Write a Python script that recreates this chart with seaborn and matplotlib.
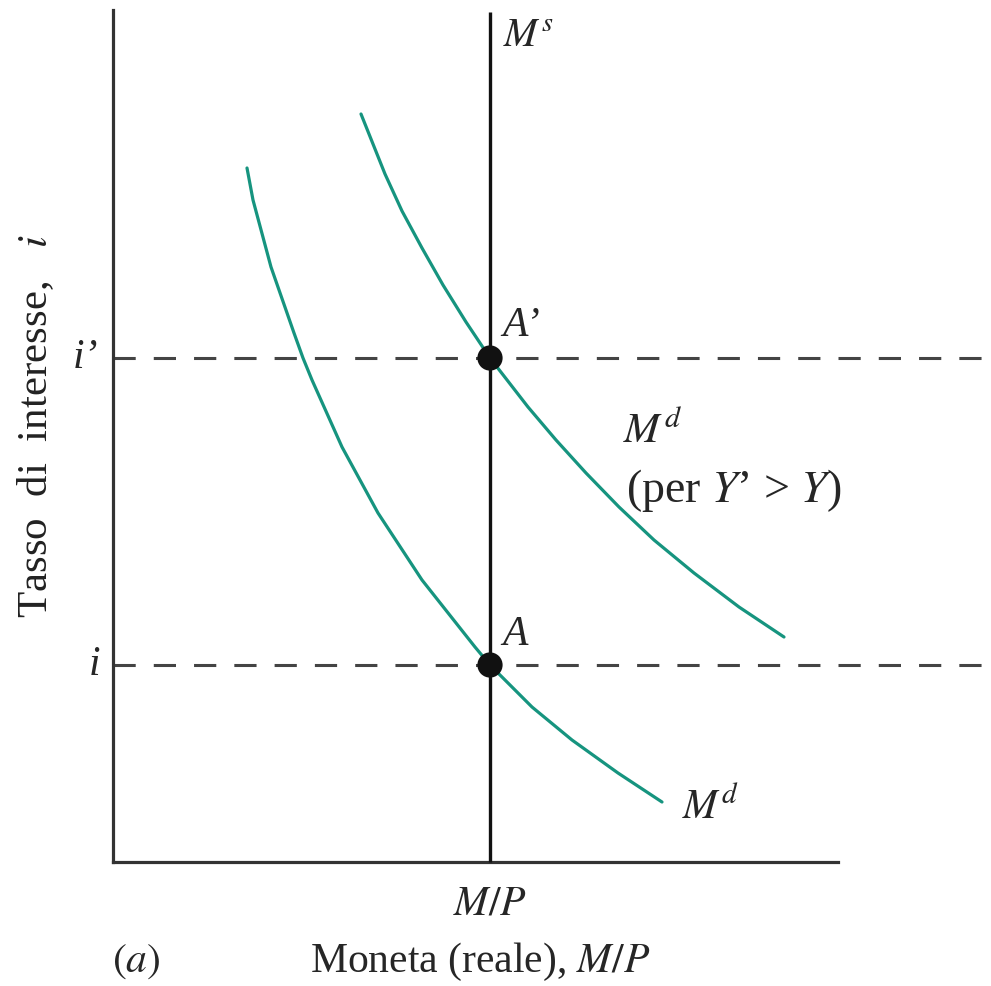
import matplotlib
matplotlib.use("Agg")
import matplotlib.pyplot as plt
import seaborn as sns
import pandas as pd

# --- data (diagram units: x = real money M/P, y = interest rate i) ---
md_x = [134, 140, 158, 181, 190, 199, 229, 265, 309, 362, 377, 419, 459, 505, 549]
md_y = [694, 662, 595, 529, 504, 482, 415, 349, 282, 215, 197, 155, 122, 89, 60]
md2_x = [248, 272, 289, 309, 330, 353, 377, 415, 443, 473, 506, 541, 581, 626, 671]
md2_y = [748, 688, 651, 614, 577, 540, 504, 455, 422, 389, 355, 322, 289, 255, 225]
ms_x = 377            # M/P (money supply)
i_low = 197           # i
i_high = 504          # i'
eq_x = [377, 377]
eq_y = [197, 504]

sns.set_theme(style="white")
plt.rcParams["font.family"] = ["Liberation Serif", "DejaVu Serif"]
plt.rcParams["mathtext.fontset"] = "stix"
plt.rcParams["lines.scale_dashes"] = False

fig = plt.figure(figsize=(9.91, 9.86), dpi=100)
ax = fig.add_axes([0, 0, 1, 1])
ax.set_xlim(-113, 878)
ax.set_ylim(-124, 862)
ax.set_facecolor("white")
fig.patch.set_facecolor("white")

for s in ["top", "right"]:
    ax.spines[s].set_visible(False)
ax.spines["left"].set_position(("data", 0))
ax.spines["bottom"].set_position(("data", 0))
ax.spines["left"].set_bounds(0, 852)
ax.spines["bottom"].set_bounds(0, 725)
for s in ["left", "bottom"]:
    ax.spines[s].set_color("#333333")
    ax.spines[s].set_linewidth(2.3)
ax.set_xticks([])
ax.set_yticks([])

teal = "#16947f"
for yv in [i_low, i_high]:
    ax.plot([0, 878], [yv, yv], color="#444444", lw=2.2, dashes=(16, 13),
            dash_capstyle="butt", zorder=1)

ax.plot([ms_x, ms_x], [0, 850], color="#111111", lw=2.4, solid_capstyle="butt", zorder=3)

df1 = pd.DataFrame({"x": md_x, "y": md_y})
df2 = pd.DataFrame({"x": md2_x, "y": md2_y})
for d in (df1, df2):
    sns.lineplot(data=d, x="x", y="y", sort=False, color=teal, lw=2.3, ax=ax,
                 zorder=2, solid_joinstyle="round", solid_capstyle="round")

sns.scatterplot(x=eq_x, y=eq_y, s=330, color="#111111", edgecolor="none", ax=ax, zorder=5)
ax.set_xlabel("")
ax.set_ylabel("")

fs = 30
ax.text(ms_x + 13, 826, r"$M^{s}$", fontsize=fs - 1, va="center", ha="left")
ax.text(ms_x + 12, i_high + 32, "A’", fontsize=fs, style="italic", va="center", ha="left")
ax.text(ms_x + 12, i_low + 30, "A", fontsize=fs, style="italic", va="center", ha="left")
ax.text(510, 430, r"$M^{d}$", fontsize=fs + 1, va="center", ha="left")
ax.text(513, 372, r"(per $Y$’ > $Y$)", fontsize=fs + 3, va="center", ha="left")
ax.text(569, 54, r"$M^{d}$", fontsize=fs, va="center", ha="left")

ax.text(-15, i_high, "i’", fontsize=fs, style="italic", va="center", ha="right")
ax.text(-13, i_low, "i", fontsize=fs, style="italic", va="center", ha="right")
ax.text(ms_x, -42, r"$M/P$", fontsize=fs, va="center", ha="center")
ax.text(ms_x - 10, -100, r"Moneta (reale), $M/P$", fontsize=fs, va="center", ha="center")
ax.text(23, -100, r"$(a)$", fontsize=fs, va="center", ha="center")
ax.text(-77, 436, r"Tasso  di  interesse,   $i$", fontsize=fs + 1, va="center", ha="center",
        rotation=90, color="#222222")

fig.savefig("out.png", dpi=100, facecolor="white")
